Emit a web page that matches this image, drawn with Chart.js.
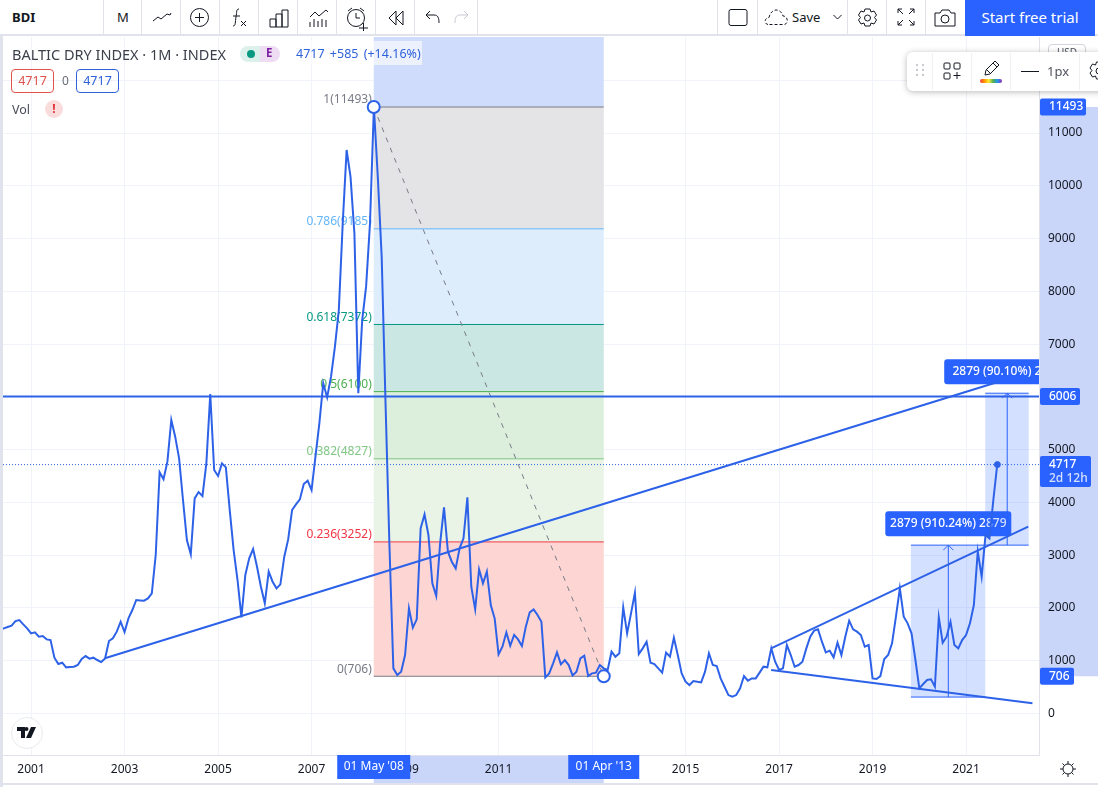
<!DOCTYPE html>
<html lang="en">

<head>
  <meta charset="UTF-8">
  <title>BDI</title>
  <script src="https://cdn.jsdelivr.net/npm/chart.js@4/dist/chart.umd.min.js"></script>
  <style>
    * {
      box-sizing: border-box;
      margin: 0;
      padding: 0;
    }

    body {
      width: 1098px;
      height: 787px;
      overflow: hidden;
      background: #fff;
      position: relative;
      font-family: "Noto Sans", sans-serif;
      color: #131722;
    }

    #bdiChart {
      position: absolute;
      left: 0;
      top: 0;
    }

    .abs {
      position: absolute;
      white-space: nowrap;
    }

    .sep {
      position: absolute;
      top: 0;
      width: 1px;
      height: 36px;
      background: #e0e3eb;
    }

    svg {
      position: absolute;
      fill: none;
      stroke: #131722;
      stroke-width: 1;
    }
  </style>
</head>

<body>
  <canvas id="bdiChart" width="1098" height="787"></canvas>

  <!-- page frame -->
  <div class="abs" style="left:0;top:36px;width:3px;height:751px;background:#e0e3eb"></div>
  <div class="abs" style="left:0;top:783px;width:1098px;height:2px;background:#e0e3eb"></div>

  <!-- top toolbar -->
  <div class="abs" style="left:0;top:0;width:1098px;height:36px;background:#fff;border-bottom:2px solid #e0e3eb"></div>
  <div class="abs" style="left:12px;top:8px;font-size:13px;font-weight:700">BDI</div>
  <div class="abs" style="left:117px;top:8px;font-size:13px">M</div>
  <div class="sep" style="left:103px"></div>
  <div class="sep" style="left:141px"></div>
  <div class="sep" style="left:180px"></div>
  <div class="sep" style="left:219px"></div>
  <div class="sep" style="left:258px"></div>
  <div class="sep" style="left:297px"></div>
  <div class="sep" style="left:336px"></div>
  <div class="sep" style="left:375px"></div>
  <div class="sep" style="left:414px"></div>
  <div class="sep" style="left:477px"></div>
  <div class="sep" style="left:717px"></div>
  <div class="sep" style="left:757px"></div>
  <div class="sep" style="left:847px"></div>
  <div class="sep" style="left:886px"></div>
  <div class="sep" style="left:925px"></div>

  <svg style="left:150px;top:6px" width="24" height="24"><path d="M3 15l5-4 3 2 6-5 3 1 1-2" /></svg>
  <svg style="left:189px;top:7px" width="22" height="22"><circle cx="10.500" cy="10.500" r="9" /><path d="M10.500 6v9M6 10.500h9" /></svg>
  <svg style="left:229px;top:6px" width="24" height="24"><path d="M10 3c-3 0-2 3-3 8s0 9-3 9M4 10h7M12 15l5 5M17 15l-5 5" /></svg>
  <svg style="left:268px;top:7px" width="22" height="22"><path d="M2 20V12h6v8M8 20V7h6v13M14 20V3h6v17M2 20h18" /></svg>
  <svg style="left:307px;top:7px" width="24" height="22"><path d="M3 10l5-5 4 4 7-6 2 2M3 20v-5M7 20v-8M11 20v-6M15 20v-8M19 20v-7" /></svg>
  <svg style="left:345px;top:5px" width="24" height="26"><circle cx="11" cy="13" r="8.500" /><path d="M11 8v5h4M3 6l4-3M19 6l-4-3M14 23h9M18.500 18v9" /></svg>
  <svg style="left:386px;top:8px" width="20" height="20"><path d="M10 3l-7 7 7 7zM17 3l-7 7 7 7z" /></svg>
  <svg style="left:424px;top:9px" width="18" height="18"><path d="M6 2L2 6l4 4M2 6h8c4 0 5 3 5 8" /></svg>
  <svg style="left:452px;top:9px;stroke:#c8cad2" width="18" height="18"><path d="M12 2l4 4-4 4M16 6H8c-4 0-5 3-5 8" /></svg>

  <svg style="left:727px;top:8px" width="22" height="20"><rect x="2" y="1.500" width="18" height="16" rx="2" /></svg>
  <svg style="left:763px;top:7px" width="26" height="20"><path d="M5 17.500C1 17 1 11 6 10.500 7 6 10 3 13 3s6 2 7 6c5 0 6 8 1 8.500H5" stroke-dasharray="3 2" /></svg>
  <div class="abs" style="left:792px;top:8px;font-size:13px">Save</div>
  <svg style="left:832px;top:13px" width="12" height="10"><path d="M1.500 2l4 4 4-4" /></svg>
  <svg style="left:856px;top:6px" width="24" height="24"><circle cx="11.500" cy="12" r="3" /><path d="M9 3h5l1 3 3-1 2.500 4-2 2.500 2 2.500-2.500 4-3-1-1 3H9l-1-3-3 1-2.500-4 2-2.500-2-2.500L5 5l3 1z" /></svg>
  <svg style="left:896px;top:7px" width="20" height="20"><path d="M2 6V2h4M2 2l5 5M18 6V2h-4M18 2l-5 5M2 14v4h4M2 18l5-5M18 14v4h-4M18 18l-5-5" /></svg>
  <svg style="left:933px;top:7px" width="24" height="22"><path d="M2 6h5l2-3h7l2 3h4v13H2z" /><circle cx="12" cy="12" r="4" /></svg>
  <div class="abs" style="left:965px;top:0;width:130px;height:36px;background:#2962ff;color:#fff;font-size:15px;line-height:35px;text-align:center">Start free trial</div>

  <!-- legend -->
  <div class="abs" style="left:12px;top:44px;font-size:14.500px;color:#3c404b">BALTIC DRY INDEX · 1M · INDEX</div>
  <div class="abs" style="left:240px;top:46px;width:20px;height:16px;background:#dcf1ec;border-radius:8px 0 0 8px"></div>
  <div class="abs" style="left:260px;top:46px;width:20px;height:16px;background:#eedcf3;border-radius:0 8px 8px 0"></div>
  <div class="abs" style="left:247px;top:50px;width:8px;height:8px;background:#089981;border-radius:50%"></div>
  <div class="abs" style="left:266px;top:45px;font-size:11.500px;font-weight:700;color:#7b1fa2">E</div>
  <div class="abs" style="left:293px;top:41px;width:129px;height:24px;background:rgba(255,255,255,.6)"></div>
  <div class="abs" style="left:296px;top:45px;font-size:12.500px;color:#2e62d9;word-spacing:2px">4717 +585 (+14.16%)</div>
  <div class="abs" style="left:11px;top:69px;width:43px;height:24px;border:1px solid #e0524a;border-radius:4px;color:#e0524a;font-size:12.500px;line-height:22px;text-align:center">4717</div>
  <div class="abs" style="left:62px;top:72px;font-size:12px;color:#6a6d78">0</div>
  <div class="abs" style="left:76px;top:69px;width:43px;height:24px;border:1px solid #2e62d9;border-radius:4px;color:#2e62d9;font-size:12.500px;line-height:22px;text-align:center">4717</div>
  <div class="abs" style="left:12px;top:101px;font-size:12.500px;color:#4a4e5a">Vol</div>
  <div class="abs" style="left:45px;top:100px;width:18px;height:18px;background:#fbdcdc;border-radius:50%;color:#e0313c;font-size:12px;font-weight:700;line-height:18px;text-align:center">!</div>

  <!-- floating drawing toolbar -->
  <div class="abs" style="left:1048px;top:44px;width:38px;height:16px;border:1px solid #d1d4dc;border-radius:4px;font-size:10px;text-align:center;color:#50535e">USD</div>
  <div class="abs" style="left:907px;top:52px;width:200px;height:39px;background:#fff;border-radius:6px;box-shadow:0 1px 6px rgba(0,0,0,.28)"></div>
  <svg style="left:914px;top:62px;stroke:#c8cad2;stroke-dasharray:2 3;stroke-width:2" width="12" height="18"><path d="M3 2v14M9 2v14" /></svg>
  <div class="sep" style="left:932px;top:53px;height:37px;background:#eef0f3"></div>
  <svg style="left:942px;top:61px" width="20" height="20"><rect x="2" y="2" width="6" height="6" rx="1" /><rect x="12" y="2" width="6" height="6" rx="1" /><rect x="2" y="12" width="6" height="6" rx="1" /><path d="M15 11v7M11.500 14.500h7" /></svg>
  <div class="sep" style="left:971px;top:53px;height:37px;background:#eef0f3"></div>
  <svg style="left:982px;top:59px" width="20" height="18"><path d="M3 16l1-5L13 2l4 4-9 9zM11 4l4 4M5 11l3 3" /></svg>
  <div class="abs" style="left:980px;top:79px;width:22px;height:4px;border-radius:2px;background:linear-gradient(90deg,#f23645,#ff9800,#ffeb3b,#4caf50,#2196f3,#9c27b0)"></div>
  <div class="sep" style="left:1010px;top:53px;height:37px;background:#eef0f3"></div>
  <div class="abs" style="left:1021px;top:71px;width:18px;height:1px;background:#131722"></div>
  <div class="abs" style="left:1047px;top:62px;font-size:13px;color:#50535e">1px</div>
  <div class="sep" style="left:1079px;top:53px;height:37px;background:#eef0f3"></div>
  <svg style="left:1088px;top:60px" width="22" height="22"><circle cx="11" cy="11" r="3" /><path d="M8.500 2h5l1 3 3-1 2.500 4-2 2.500 2 2.500-2.500 4-3-1-1 3h-5l-1-3-3 1L2 13l2-2.500L2 8l2.500-4 3 1z" /></svg>

  <!-- logo and axis gear -->
  <div class="abs" style="left:11px;top:717px;width:32px;height:32px;background:#fff;border:1px solid #e8eaef;border-radius:50%"></div>
  <svg style="left:17px;top:727px;stroke:none;fill:#131722" width="20" height="12"><path d="M0 0h8v11H4V4H0zM9.500 0a2 2 0 1 1 0 4 2 2 0 0 1 0-4zM14 0h5l-5 11H9z" /></svg>
  <svg style="left:1059px;top:760px" width="18" height="18"><circle cx="9" cy="9" r="5" /><path d="M9 1v3M9 14v3M1 9h3M14 9h3M3.500 3.500l2 2M12.500 12.500l2 2M3.500 14.500l2-2M12.500 5.500l2-2" /></svg>

  <script>
    // monthly closes, first value is May 2000
    const firstYear = 2000;
    const firstMonth = 4;
    const bdi2000 = [1590, 1614, 1640, 1664, 1753, 1772, 1690, 1614];
    const bdi2001 = [1519, 1538, 1456, 1469, 1405, 1393, 1058, 938, 963, 875, 881, 887];
    const bdi2002 = [919, 1033, 1089, 1039, 1058, 1014, 976, 1045, 1374, 1424, 1551, 1740];
    const bdi2003 = [1544, 1803, 1961, 2151, 2144, 2138, 2182, 2277, 3004, 4570, 4438, 4772];
    const bdi2004 = [5562, 5246, 4835, 4046, 3288, 3016, 4077, 4197, 4122, 4741, 6055, 4614];
    const bdi2005 = [4501, 4741, 4665, 3856, 3098, 2530, 1822, 2625, 2940, 3117, 2782, 2403];
    const bdi2006 = [2088, 2688, 2498, 2372, 2448, 2972, 3300, 3856, 3964, 4058, 4349, 4412];
    const bdi2007 = [4235, 4867, 5499, 6257, 5990, 6383, 6952, 7647, 9289, 10679, 10174, 9100];
    const bdi2008 = [6068, 7457, 8089, 9289, 11493, 10174, 8658, 5850, 3160, 856, 730, 793];
    const bdi2009 = [1109, 1993, 1627, 1784, 3509, 3774, 3383, 2467, 2227, 3225, 3907, 3067];
    const bdi2010 = [2877, 2751, 3130, 3320, 4096, 2403, 1974, 2732, 2467, 2688, 2056, 1803];
    const bdi2011 = [1121, 1266, 1538, 1285, 1488, 1405, 1279, 1646, 1917, 1974, 1867, 1740];
    const bdi2012 = [685, 761, 951, 1159, 932, 1014, 919, 723, 793, 1045, 1096, 711];
    const bdi2013 = [761, 774, 919, 856, 824, 1172, 1077, 1140, 2012, 1519, 1898, 2290];
    const bdi2014 = [1127, 1235, 1361, 963, 938, 856, 774, 1153, 1077, 1437, 1109, 761];
    const bdi2015 = [603, 540, 616, 603, 590, 793, 1140, 919, 900, 666, 508, 350];
    const bdi2016 = [319, 350, 477, 710, 622, 666, 666, 774, 887, 875, 1235, 982];
    const bdi2017 = [824, 856, 1298, 1108, 887, 919, 982, 1235, 1456, 1570, 1595, 1361];
    const bdi2018 = [1159, 1191, 1064, 1342, 1108, 1456, 1759, 1595, 1551, 1488, 1266, 1298];
    const bdi2019 = [666, 653, 710, 1033, 1108, 1330, 1835, 2372, 1835, 1709, 1519, 1014];
    const bdi2020 = [477, 559, 635, 647, 508, 1822, 1342, 1456, 1740, 1298, 1235, 1393];
    const bdi2021 = [1488, 1709, 2056, 3067, 2593, 3383, 3319, 4046, 4717];

    const yearTicks = [2001, 2003, 2005, 2007, 2009, 2011, 2013, 2015, 2017, 2019, 2021];
    const hiddenYears = [2013];
    const priceTicks = [0, 1000, 2000, 3000, 4000, 5000, 6000, 7000, 8000, 9000, 10000, 11000, 12000];
    const hiddenPrices = [12000];

    // fibonacci retracement between the two anchors
    const fibYears = [2008.33, 2013.25];
    const fibNames = ['1', '0.786', '0.618', '0.5', '0.382', '0.236', '0'];
    const fibPrices = [11493, 9185, 7372, 6100, 4827, 3252, 706];
    const fibLines = ['#787b86', '#64b5f6', '#089981', '#4caf50', '#81c784', '#f23645', '#787b86'];
    const fibFills = ['#e4e4e6', '#ddedfc', '#cbe7e3', '#dceedc', '#e9f4e7', '#fdd6d4'];

    const supportYears = [2002.58, 2021.73];
    const supportPrices = [1046, 6295];
    const wedgeUpYears = [2016.83, 2022.33];
    const wedgeUpPrices = [1235, 3540];
    const wedgeLowYears = [2016.83, 2022.42];
    const wedgeLowPrices = [824, 193];
    const resistance = 6006;
    const lastPrice = 4717;
    const lastYear = 2021.67;

    // price range tools: from year, to year, arrow year, low, high, label
    const rangeFrom = [2019.82, 2021.41];
    const rangeTo = [2021.41, 2022.34];
    const rangeMid = [2020.62, 2021.88];
    const rangeLow = [312, 3191];
    const rangeHigh = [3191, 6070];
    const rangeLabels = ['2879 (910.24%) 2879', '2879 (90.10%) 2879'];

    const blue = '#2d62e8';
    const tool = '#2962ff';
    const font = '"Noto Sans", sans-serif';

    const bdiValues = [].concat(bdi2000, bdi2001, bdi2002, bdi2003, bdi2004, bdi2005, bdi2006, bdi2007,
      bdi2008, bdi2009, bdi2010, bdi2011, bdi2012, bdi2013, bdi2014, bdi2015, bdi2016, bdi2017,
      bdi2018, bdi2019, bdi2020, bdi2021);

    function pairs(xs, ys) {
      return xs.map((x, i) => ({ x: x, y: ys[i] }));
    }

    function lineSet(data, width) {
      return { data: data, borderColor: blue, borderWidth: width, pointRadius: 0, tension: 0 };
    }

    function tag(ctx, x, y, w, h, lines) {
      ctx.fillStyle = tool;
      ctx.beginPath();
      ctx.roundRect(x, y, w, h, 2);
      ctx.fill();
      ctx.textBaseline = 'middle';
      ctx.textAlign = 'left';
      ctx.font = '500 12px ' + font;
      lines.forEach((t, i) => {
        ctx.fillStyle = i ? '#d5e0ff' : '#fff';
        ctx.fillText(t, x + 9, y + 8.500 + i * 14);
      });
    }

    // axis highlights go below the tick labels
    const axisBands = {
      id: 'axisBands',
      beforeDraw(chart) {
        const ctx = chart.ctx, a = chart.chartArea, x = chart.scales.x, y = chart.scales.y;
        ctx.save();
        ctx.fillStyle = '#c9d6f9';
        ctx.fillRect(a.right + 1, y.getPixelForValue(fibPrices[0]), 59, y.getPixelForValue(fibPrices[6]) - y.getPixelForValue(fibPrices[0]));
        ctx.fillRect(x.getPixelForValue(fibYears[0]), a.bottom + 1, x.getPixelForValue(fibYears[1]) - x.getPixelForValue(fibYears[0]), 28);
        ctx.restore();
      }
    };

    const drawings = {
      id: 'drawings',
      beforeDatasetsDraw(chart) {
        const ctx = chart.ctx, a = chart.chartArea, x = chart.scales.x, y = chart.scales.y;
        const fx0 = x.getPixelForValue(fibYears[0]), fx1 = x.getPixelForValue(fibYears[1]);
        ctx.save();
        ctx.beginPath();
        ctx.rect(a.left, a.top, a.width, a.height);
        ctx.clip();

        // selected date range above the retracement
        ctx.fillStyle = '#cfdcfb';
        ctx.fillRect(fx0, a.top, fx1 - fx0, y.getPixelForValue(fibPrices[0]) - a.top);

        fibFills.forEach((c, i) => {
          const top = y.getPixelForValue(fibPrices[i]), bottom = y.getPixelForValue(fibPrices[i + 1]);
          ctx.fillStyle = c;
          ctx.fillRect(fx0, top, fx1 - fx0, bottom - top);
        });
        fibNames.forEach((n, i) => {
          const py = y.getPixelForValue(fibPrices[i]);
          ctx.strokeStyle = fibLines[i];
          ctx.lineWidth = 1;
          ctx.beginPath();
          ctx.moveTo(fx0, py);
          ctx.lineTo(fx1, py);
          ctx.stroke();
          ctx.fillStyle = fibLines[i];
          ctx.font = '12px ' + font;
          ctx.textAlign = 'right';
          ctx.textBaseline = 'middle';
          ctx.fillText(n + '(' + fibPrices[i] + ')', fx0 - 2, py - 7);
        });

        ctx.strokeStyle = '#787b86';
        ctx.setLineDash([5, 6]);
        ctx.beginPath();
        ctx.moveTo(fx0, y.getPixelForValue(fibPrices[0]));
        ctx.lineTo(fx1, y.getPixelForValue(fibPrices[6]));
        ctx.stroke();
        ctx.setLineDash([]);

        rangeFrom.forEach((from, i) => {
          const l = x.getPixelForValue(from), r = x.getPixelForValue(rangeTo[i]);
          const t = y.getPixelForValue(rangeHigh[i]), b = y.getPixelForValue(rangeLow[i]);
          const m = x.getPixelForValue(rangeMid[i]);
          ctx.fillStyle = 'rgba(41,98,255,.2)';
          ctx.fillRect(l, t, r - l, b - t);
          ctx.strokeStyle = tool;
          ctx.lineWidth = 1;
          ctx.beginPath();
          ctx.moveTo(l, t); ctx.lineTo(r, t);
          ctx.moveTo(l, b); ctx.lineTo(r, b);
          ctx.moveTo(m, b); ctx.lineTo(m, t);
          ctx.moveTo(m - 5, t + 5); ctx.lineTo(m, t); ctx.lineTo(m + 5, t + 5);
          ctx.stroke();
          ctx.fillStyle = tool;
          ctx.beginPath();
          ctx.roundRect(m - 63, t - 34, 126, 25, 3);
          ctx.fill();
          ctx.fillStyle = '#fff';
          ctx.font = '500 12px ' + font;
          ctx.textAlign = 'center';
          ctx.textBaseline = 'middle';
          ctx.fillText(rangeLabels[i], m, t - 21.500);
        });

        // last price line
        ctx.strokeStyle = blue;
        ctx.setLineDash([1, 2]);
        ctx.beginPath();
        ctx.moveTo(a.left, y.getPixelForValue(lastPrice));
        ctx.lineTo(a.right, y.getPixelForValue(lastPrice));
        ctx.stroke();
        ctx.restore();
      },
      afterDraw(chart) {
        const ctx = chart.ctx, a = chart.chartArea, x = chart.scales.x, y = chart.scales.y;
        ctx.save();
        tag(ctx, a.right + 1, y.getPixelForValue(fibPrices[0]) - 8.500, 46, 17, [String(fibPrices[0])]);
        tag(ctx, a.right + 1, y.getPixelForValue(resistance) - 8.500, 40, 17, [String(resistance)]);
        tag(ctx, a.right + 1, y.getPixelForValue(lastPrice) - 8.500, 51, 31, [String(lastPrice), '2d 12h']);
        tag(ctx, a.right + 1, y.getPixelForValue(fibPrices[6]) - 8.500, 34, 17, [String(fibPrices[6])]);

        ['01 May \'08', '01 Apr \'13'].forEach((t, i) => {
          const px = x.getPixelForValue(fibYears[i]);
          const w = i ? 71 : 73;
          ctx.fillStyle = tool;
          ctx.fillRect(px - w / 2, a.bottom, w, 24);
          ctx.fillStyle = '#fff';
          ctx.font = '12px ' + font;
          ctx.textAlign = 'center';
          ctx.textBaseline = 'middle';
          ctx.fillText(t, px, a.bottom + 12);
        });
        ctx.restore();
      }
    };

    const series = bdiValues.map((v, i) => ({ x: firstYear + (firstMonth + i) / 12, y: v }));

    new Chart(document.getElementById('bdiChart').getContext('2d'), {
      type: 'line',
      data: {
        datasets: [
          {
            data: pairs(fibYears, [fibPrices[0], fibPrices[6]]),
            showLine: false, pointRadius: 6, pointBorderWidth: 2,
            pointBackgroundColor: '#fff', pointBorderColor: blue
          },
          {
            data: pairs([lastYear], [lastPrice]),
            showLine: false, pointRadius: 3, pointBackgroundColor: blue, pointBorderColor: blue
          },
          lineSet(series, 2),
          lineSet(pairs(supportYears, supportPrices), 2),
          lineSet(pairs(wedgeUpYears, wedgeUpPrices), 2),
          lineSet(pairs(wedgeLowYears, wedgeLowPrices), 2),
          lineSet(pairs([2000, 2023], [resistance, resistance]), 2)
        ]
      },
      plugins: [axisBands, drawings],
      options: {
        responsive: false,
        animation: false,
        devicePixelRatio: 1,
        layout: { autoPadding: false, padding: { left: 3, top: 37 } },
        plugins: { legend: { display: false }, tooltip: { enabled: false } },
        scales: {
          x: {
            type: 'linear',
            min: 2000.4,
            max: 2022.56,
            afterBuildTicks(scale) {
              scale.ticks = yearTicks.map(v => ({ value: v }));
            },
            afterFit(scale) {
              scale.height = 32;
              scale.paddingLeft = 0;
              scale.paddingRight = 0;
            },
            grid: { color: '#f0f3fa', drawTicks: false },
            border: { color: '#e0e3eb', width: 1 },
            ticks: {
              padding: 7,
              maxRotation: 0,
              autoSkip: false,
              color: '#131722',
              font: { family: font, size: 12 },
              callback: v => hiddenYears.includes(v) ? '' : String(v)
            }
          },
          y: {
            position: 'right',
            min: -786,
            max: 12820,
            afterBuildTicks(scale) {
              scale.ticks = priceTicks.map(v => ({ value: v }));
            },
            afterFit(scale) {
              scale.width = 59;
              scale.paddingTop = 0;
              scale.paddingBottom = 0;
            },
            grid: { color: '#f0f3fa', drawTicks: false },
            border: { color: '#e0e3eb', width: 1 },
            ticks: {
              padding: 9,
              autoSkip: false,
              color: '#131722',
              font: { family: font, size: 12 },
              callback: v => hiddenPrices.includes(v) ? '' : String(v)
            }
          }
        }
      }
    });
  </script>
</body>

</html>
